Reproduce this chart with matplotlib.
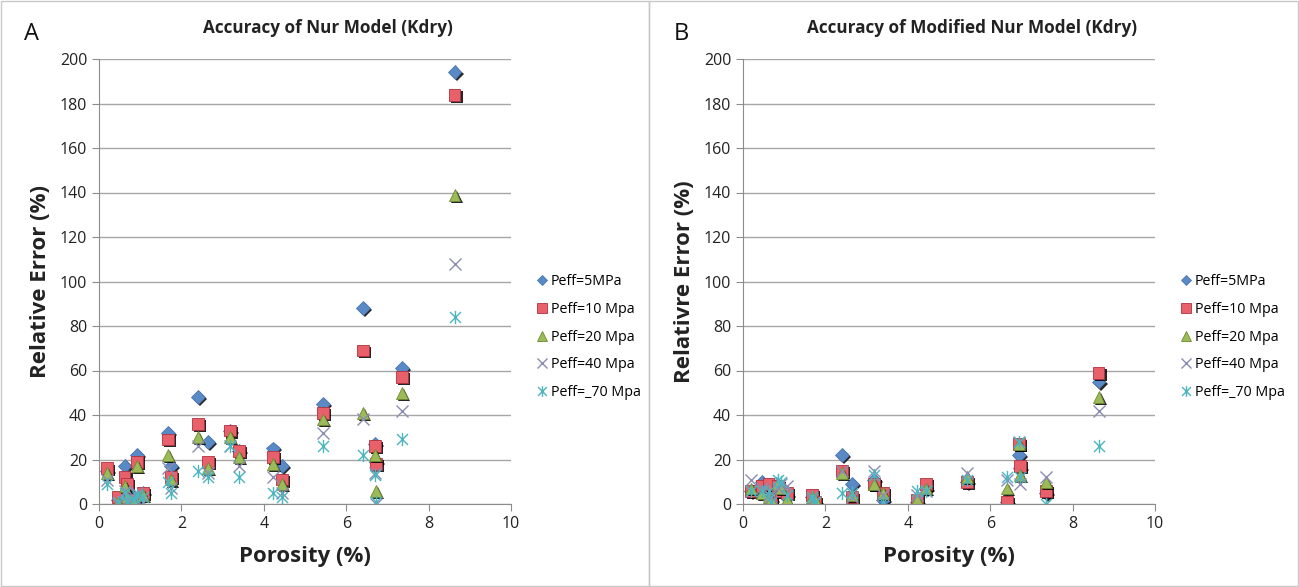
import matplotlib
matplotlib.use("Agg")
import matplotlib.pyplot as plt
import matplotlib.patheffects as pe
from matplotlib.path import Path
from matplotlib.patches import Rectangle

plt.rcParams['font.family'] = ['Open Sans', 'DejaVu Sans']

# ---- data ----
porosity = [0.2, 0.45, 0.62, 0.68, 0.85, 0.93, 1.07, 1.68, 1.75, 2.4, 2.65,
            3.17, 3.4, 4.22, 4.45, 5.43, 6.4, 6.7, 6.73, 7.35, 8.63]

series_labels = ["Peff=5MPa", "Peff=10 Mpa", "Peff=20 Mpa", "Peff=40 Mpa", "Peff=_70 Mpa"]

nur_5 = [15, 2, 17, 4, 3, 22, 5, 32, 17, 48, 28, 33, 24, 25, 17, 45, 88, 27, 19, 61, 194]
nur_10 = [16, 3, 12, 9, 2, 19, 5, 29, 12, 36, 19, 33, 24, 21, 11, 41, 69, 26, 18, 57, 184]
nur_20 = [14, 1, 8, 3, 1, 17, 4, 22, 11, 30, 16, 30, 21, 18, 9, 38, 41, 22, 6, 50, 139]
nur_40 = [11, 0, 6, 2, 3, 5, 1, 16, 7, 26, 14, 26, 17, 12, 5, 32, 38, 14, 0, 42, 108]
nur_70 = [9, 1, 5, 1, 2, 4, 3, 10, 5, 15, 12, 26, 12, 5, 3, 26, 22, 13, 1, 29, 84]

mod_5 = [6, 10, 7, 2, 8, 6, 4, 3, 1, 22, 9, 11, 2, 1, 7, 10, 1, 22, 16, 5, 55]
mod_10 = [6, 8, 9, 1, 8, 6, 5, 4, 1, 15, 3, 9, 5, 2, 9, 10, 1, 27, 17, 6, 59]
mod_20 = [7, 5, 3, 2, 9, 7, 2, 3, 2, 14, 4, 9, 5, 2, 7, 12, 7, 27, 13, 10, 48]
mod_40 = [11, 7, 4, 3, 7, 9, 8, 2, 1, 15, 3, 15, 4, 4, 6, 14, 11, 28, 9, 12, 42]
mod_70 = [6, 6, 6, 1, 11, 10, 4, 3, 1, 5, 5, 13, 1, 6, 6, 11, 12, 28, 12, 0, 26]

x_ticks = [0, 2, 4, 6, 8, 10]
y_ticks = list(range(0, 201, 20))

# ---- styles ----
star_path = Path([(-1, -1), (1, 1), (-1, 1), (1, -1), (0, -1.2), (0, 1.2)],
                 [Path.MOVETO, Path.LINETO, Path.MOVETO, Path.LINETO, Path.MOVETO, Path.LINETO])
shadow = [pe.withSimplePatchShadow(offset=(1.5, -1.5), shadow_rgbFace='black', alpha=0.85)]
styles = [
    dict(marker='D', ms=7, mfc='#5A8AC6', mec='#4A76B0', mew=0.6, path_effects=shadow),
    dict(marker='s', ms=8.5, mfc='#E8606A', mec='#B03040', mew=0.6, path_effects=shadow),
    dict(marker='^', ms=8.5, mfc='#9BBB59', mec='#6E8A30', mew=0.6, path_effects=shadow),
    dict(marker='x', ms=8.5, mfc='none', mec='#8C8CB0', mew=1.0),
    dict(marker=star_path, ms=9.5, mfc='none', mec='#4BB5C0', mew=1.0),
]

fig = plt.figure(figsize=(12.99, 5.87), dpi=100)

# panel frames
for x0, w in [(0.001, 0.4985), (0.4995, 0.4995)]:
    fig.patches.append(Rectangle((x0, 0.002), w, 0.996, transform=fig.transFigure,
                                 fill=False, edgecolor='#c8c8c8', lw=1.0))

panels = [
    dict(left=99 / 1299, title="Accuracy of Nur Model (Kdry)", tx=328 / 1299, letter="A", lx=32 / 1299,
         ylabel="Relative Error (%)", data=[nur_5, nur_10, nur_20, nur_40, nur_70]),
    dict(left=743 / 1299, title="Accuracy of Modified Nur Model (Kdry)", tx=972 / 1299, letter="B", lx=681 / 1299,
         ylabel="Relativre Error (%)", data=[mod_5, mod_10, mod_20, mod_40, mod_70]),
]

for p in panels:
    ax = fig.add_axes([p['left'], 1 - 504 / 587, 412 / 1299, 445 / 587])
    for vals, lab, st in zip(p['data'], series_labels, styles):
        ax.plot(porosity, vals, linestyle='none', label=lab, **st)
    ax.set_xlim(0, 10)
    ax.set_ylim(0, 200)
    ax.set_xticks(x_ticks)
    ax.set_yticks(y_ticks)
    ax.yaxis.grid(True, color='#a6a6a6', lw=1.0)
    ax.set_axisbelow(True)
    for s in ['top', 'right']:
        ax.spines[s].set_visible(False)
    for s in ['left', 'bottom']:
        ax.spines[s].set_color('#8c8c8c')
    ax.tick_params(axis='both', colors='#8c8c8c', labelcolor='#222222', labelsize=11.5,
                   direction='out', length=5)
    ax.set_xlabel("Porosity (%)", fontsize=16, fontweight='bold', color='#222222', labelpad=10)
    ax.set_ylabel(p['ylabel'], fontsize=16, fontweight='bold', color='#222222', labelpad=6)
    fig.text(p['tx'], 1 - 28 / 587, p['title'], ha='center', va='center', fontsize=12.3,
             fontweight='bold', color='#222222')
    fig.text(p['lx'], 1 - 34 / 587, p['letter'], ha='center', va='center', fontsize=17, color='#111111')
    leg = ax.legend(loc='center left', bbox_to_anchor=(1.045, 0.375), frameon=False, fontsize=10.3,
                    handlelength=0.8, handletextpad=0.2, labelspacing=0.9, borderpad=0)
    for h in leg.legend_handles:
        h.set_path_effects([])
        h.set_markersize(h.get_markersize() * 0.8)

fig.savefig("out.png", dpi=100)
